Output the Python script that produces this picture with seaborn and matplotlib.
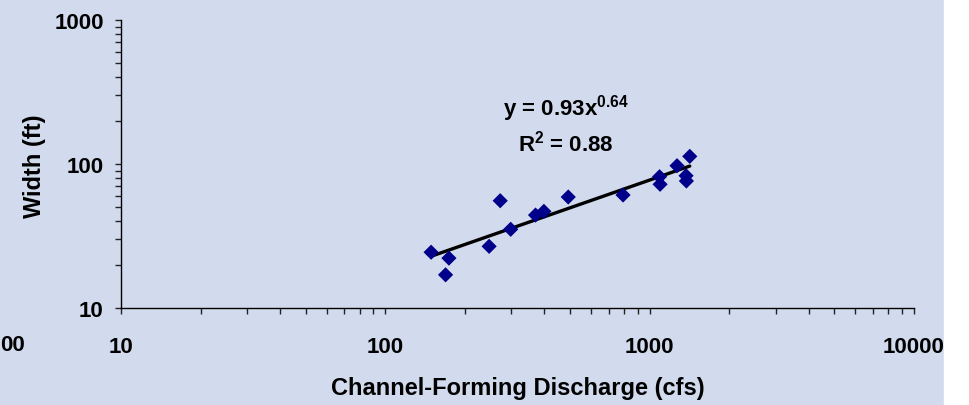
import numpy as np
import pandas as pd
import seaborn as sns
import matplotlib.pyplot as plt
from matplotlib.ticker import LogLocator, FixedLocator, FixedFormatter, NullFormatter
from matplotlib.patches import Rectangle

# du lieu doc tu hinh
discharge = [149, 174, 169, 247, 272, 298, 370, 398, 492, 793, 1090, 1095, 1269, 1373, 1377, 1418]
width = [24.4, 22.2, 17.0, 26.8, 55.6, 35.2, 44.2, 46.9, 59.0, 60.9, 81.6, 72.3, 97.3, 82.9, 76.2, 113]
coef_a = 0.93
coef_b = 0.64
r2 = 0.88
x_ticks = [10, 100, 1000, 10000]
y_ticks = [10, 100, 1000]

df = pd.DataFrame({'Q': discharge, 'W': width})

# duong xu huong y = a x^b
q_line = np.array([min(discharge), max(discharge)])
df_line = pd.DataFrame({'Q': q_line, 'W': coef_a * q_line ** coef_b})

sns.set_style('white')
plt.rcParams['font.family'] = ['Liberation Sans', 'DejaVu Sans']
plt.rcParams['font.weight'] = 'bold'
plt.rcParams['text.color'] = 'black'
plt.rcParams['axes.labelcolor'] = 'black'
plt.rcParams['xtick.color'] = 'black'
plt.rcParams['ytick.color'] = 'black'
plt.rcParams['mathtext.fontset'] = 'custom'
plt.rcParams['mathtext.rm'] = 'Liberation Sans:bold'
plt.rcParams['mathtext.bf'] = 'Liberation Sans:bold'

bg = '#d2dbed'
fig = plt.figure(figsize=(9.7, 4.06), dpi=100, facecolor=bg)
fig.patches.append(Rectangle((944 / 970, 0), 1, 1, transform=fig.transFigure,
                             color='white', zorder=0))
ax = fig.add_axes([121 / 970, (406 - 309) / 406, (914 - 121) / 970, (309 - 21) / 406])
ax.set_facecolor('none')

sns.lineplot(data=df_line, x='Q', y='W', color='black', linewidth=2.4, ax=ax)
sns.scatterplot(data=df, x='Q', y='W', marker='D', s=60, color='#00008b',
                edgecolor='none', ax=ax, zorder=3)

ax.set_xscale('log')
ax.set_yscale('log')
ax.set_xlim(10, 10000)
ax.set_ylim(10, 1000)

ax.xaxis.set_major_locator(FixedLocator(x_ticks))
ax.xaxis.set_major_formatter(FixedFormatter([str(t) for t in x_ticks]))
ax.yaxis.set_major_locator(FixedLocator(y_ticks))
ax.yaxis.set_major_formatter(FixedFormatter([str(t) for t in y_ticks]))
ax.xaxis.set_minor_locator(LogLocator(base=10, subs=np.arange(2, 10)))
ax.yaxis.set_minor_locator(LogLocator(base=10, subs=np.arange(2, 10)))
ax.xaxis.set_minor_formatter(NullFormatter())
ax.yaxis.set_minor_formatter(NullFormatter())

sns.despine(ax=ax)
for s in ['left', 'bottom']:
    ax.spines[s].set_color('black')
    ax.spines[s].set_linewidth(1.0)

ax.tick_params(axis='x', which='both', direction='out', length=4.5, width=1, color='#222222',
               bottom=True, labelsize=16, pad=15.5)
ax.tick_params(axis='y', which='both', direction='out', length=4.5, width=1, color='#222222',
               left=True, labelsize=16, pad=8)
for lab in ax.get_xticklabels() + ax.get_yticklabels():
    lab.set_fontweight('bold')

ax.set_xlabel('Channel-Forming Discharge (cfs)', fontsize=17, fontweight='bold')
ax.set_ylabel('Width (ft)', fontsize=17, fontweight='bold')
ax.xaxis.set_label_coords(0.5, -0.236)
ax.yaxis.set_label_coords(-0.094, 0.4965)

# phuong trinh hoi quy, dat giua khoang x ~ 483
ax.text(483, 245, r'y = 0.93x$^{0.64}$', fontsize=16, fontweight='bold',
        ha='center', va='center', transform=ax.transData)
ax.text(483, 140, r'R$^{2}$ = 0.88', fontsize=16, fontweight='bold',
        ha='center', va='center', transform=ax.transData)

# phan nhan con thay o goc trai duoi
fig.text(0.5 / 970, (406 - 346) / 406, '00', fontsize=16, fontweight='bold',
         ha='left', va='center')

fig.savefig('out.png', dpi=100, facecolor=fig.get_facecolor())
